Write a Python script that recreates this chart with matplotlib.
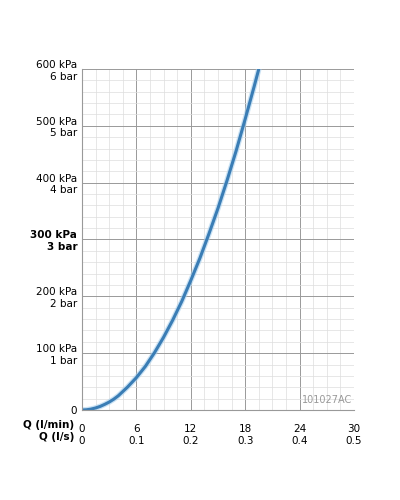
import matplotlib
matplotlib.use("Agg")
import matplotlib.pyplot as plt
from matplotlib.ticker import MultipleLocator

q_lmin = [0, 0.5, 1, 1.5, 2, 2.5, 3, 3.5, 4, 5, 6, 7, 8, 9, 10, 11, 12, 13, 14, 15, 16, 17, 18, 19, 19.5]
p_kpa = [0, 0.4, 1.6, 3.6, 6.3, 9.9, 14, 19, 25, 40, 57, 77, 101, 128, 158, 191, 228, 267, 310, 355, 404, 456, 512, 570, 600]
xticks = [0, 6, 12, 18, 24, 30]
xlab_ls = ["0", "0.1", "0.2", "0.3", "0.4", "0.5"]
yticks = [0, 100, 200, 300, 400, 500, 600]
ylabs = ["0", "100 kPa\n1 bar", "200 kPa\n2 bar", "300 kPa\n3 bar", "400 kPa\n4 bar", "500 kPa\n5 bar", "600 kPa\n6 bar"]

fig = plt.figure(figsize=(4, 5), dpi=100)
ax = fig.add_axes([0.205, 0.18, 0.68, 0.682])
ax.set_xlim(0, 30); ax.set_ylim(0, 600)
ax.xaxis.set_minor_locator(MultipleLocator(1.5))
ax.yaxis.set_minor_locator(MultipleLocator(20))
ax.grid(which="major", color="#999999", lw=0.7)
ax.grid(which="minor", color="#dddddd", lw=0.5)
ax.set_axisbelow(True)
for s in ["top", "right"]:
    ax.spines[s].set_visible(False)
for s in ["left", "bottom"]:
    ax.spines[s].set_color("#999999")
ax.tick_params(which="both", length=0, labelsize=7.5)
ax.tick_params(axis="x", pad=10)
ax.plot(q_lmin, p_kpa, color="#a8d0ee", lw=4, alpha=0.6, solid_capstyle="round")
ax.plot(q_lmin, p_kpa, color="#3a7db5", lw=2.2, solid_capstyle="round")
ax.set_xticks(xticks)
ax.set_xticklabels([f"{t}\n{l}" for t, l in zip(xticks, xlab_ls)], linespacing=1.3)
ax.set_yticks(yticks)
ax.set_yticklabels(ylabs, ha="right")
for lbl in ax.get_yticklabels():
    if lbl.get_text().startswith("300"):
        lbl.set_fontweight("bold")
fig.text(0.185, 0.16, "Q (l/min)\nQ (l/s)", ha="right", va="top", fontsize=7.5, fontweight="bold", linespacing=1.3)
ax.text(29.8, 8, "101027AC", ha="right", va="bottom", fontsize=7, color="#999999")
fig.savefig("out.png", dpi=100)
